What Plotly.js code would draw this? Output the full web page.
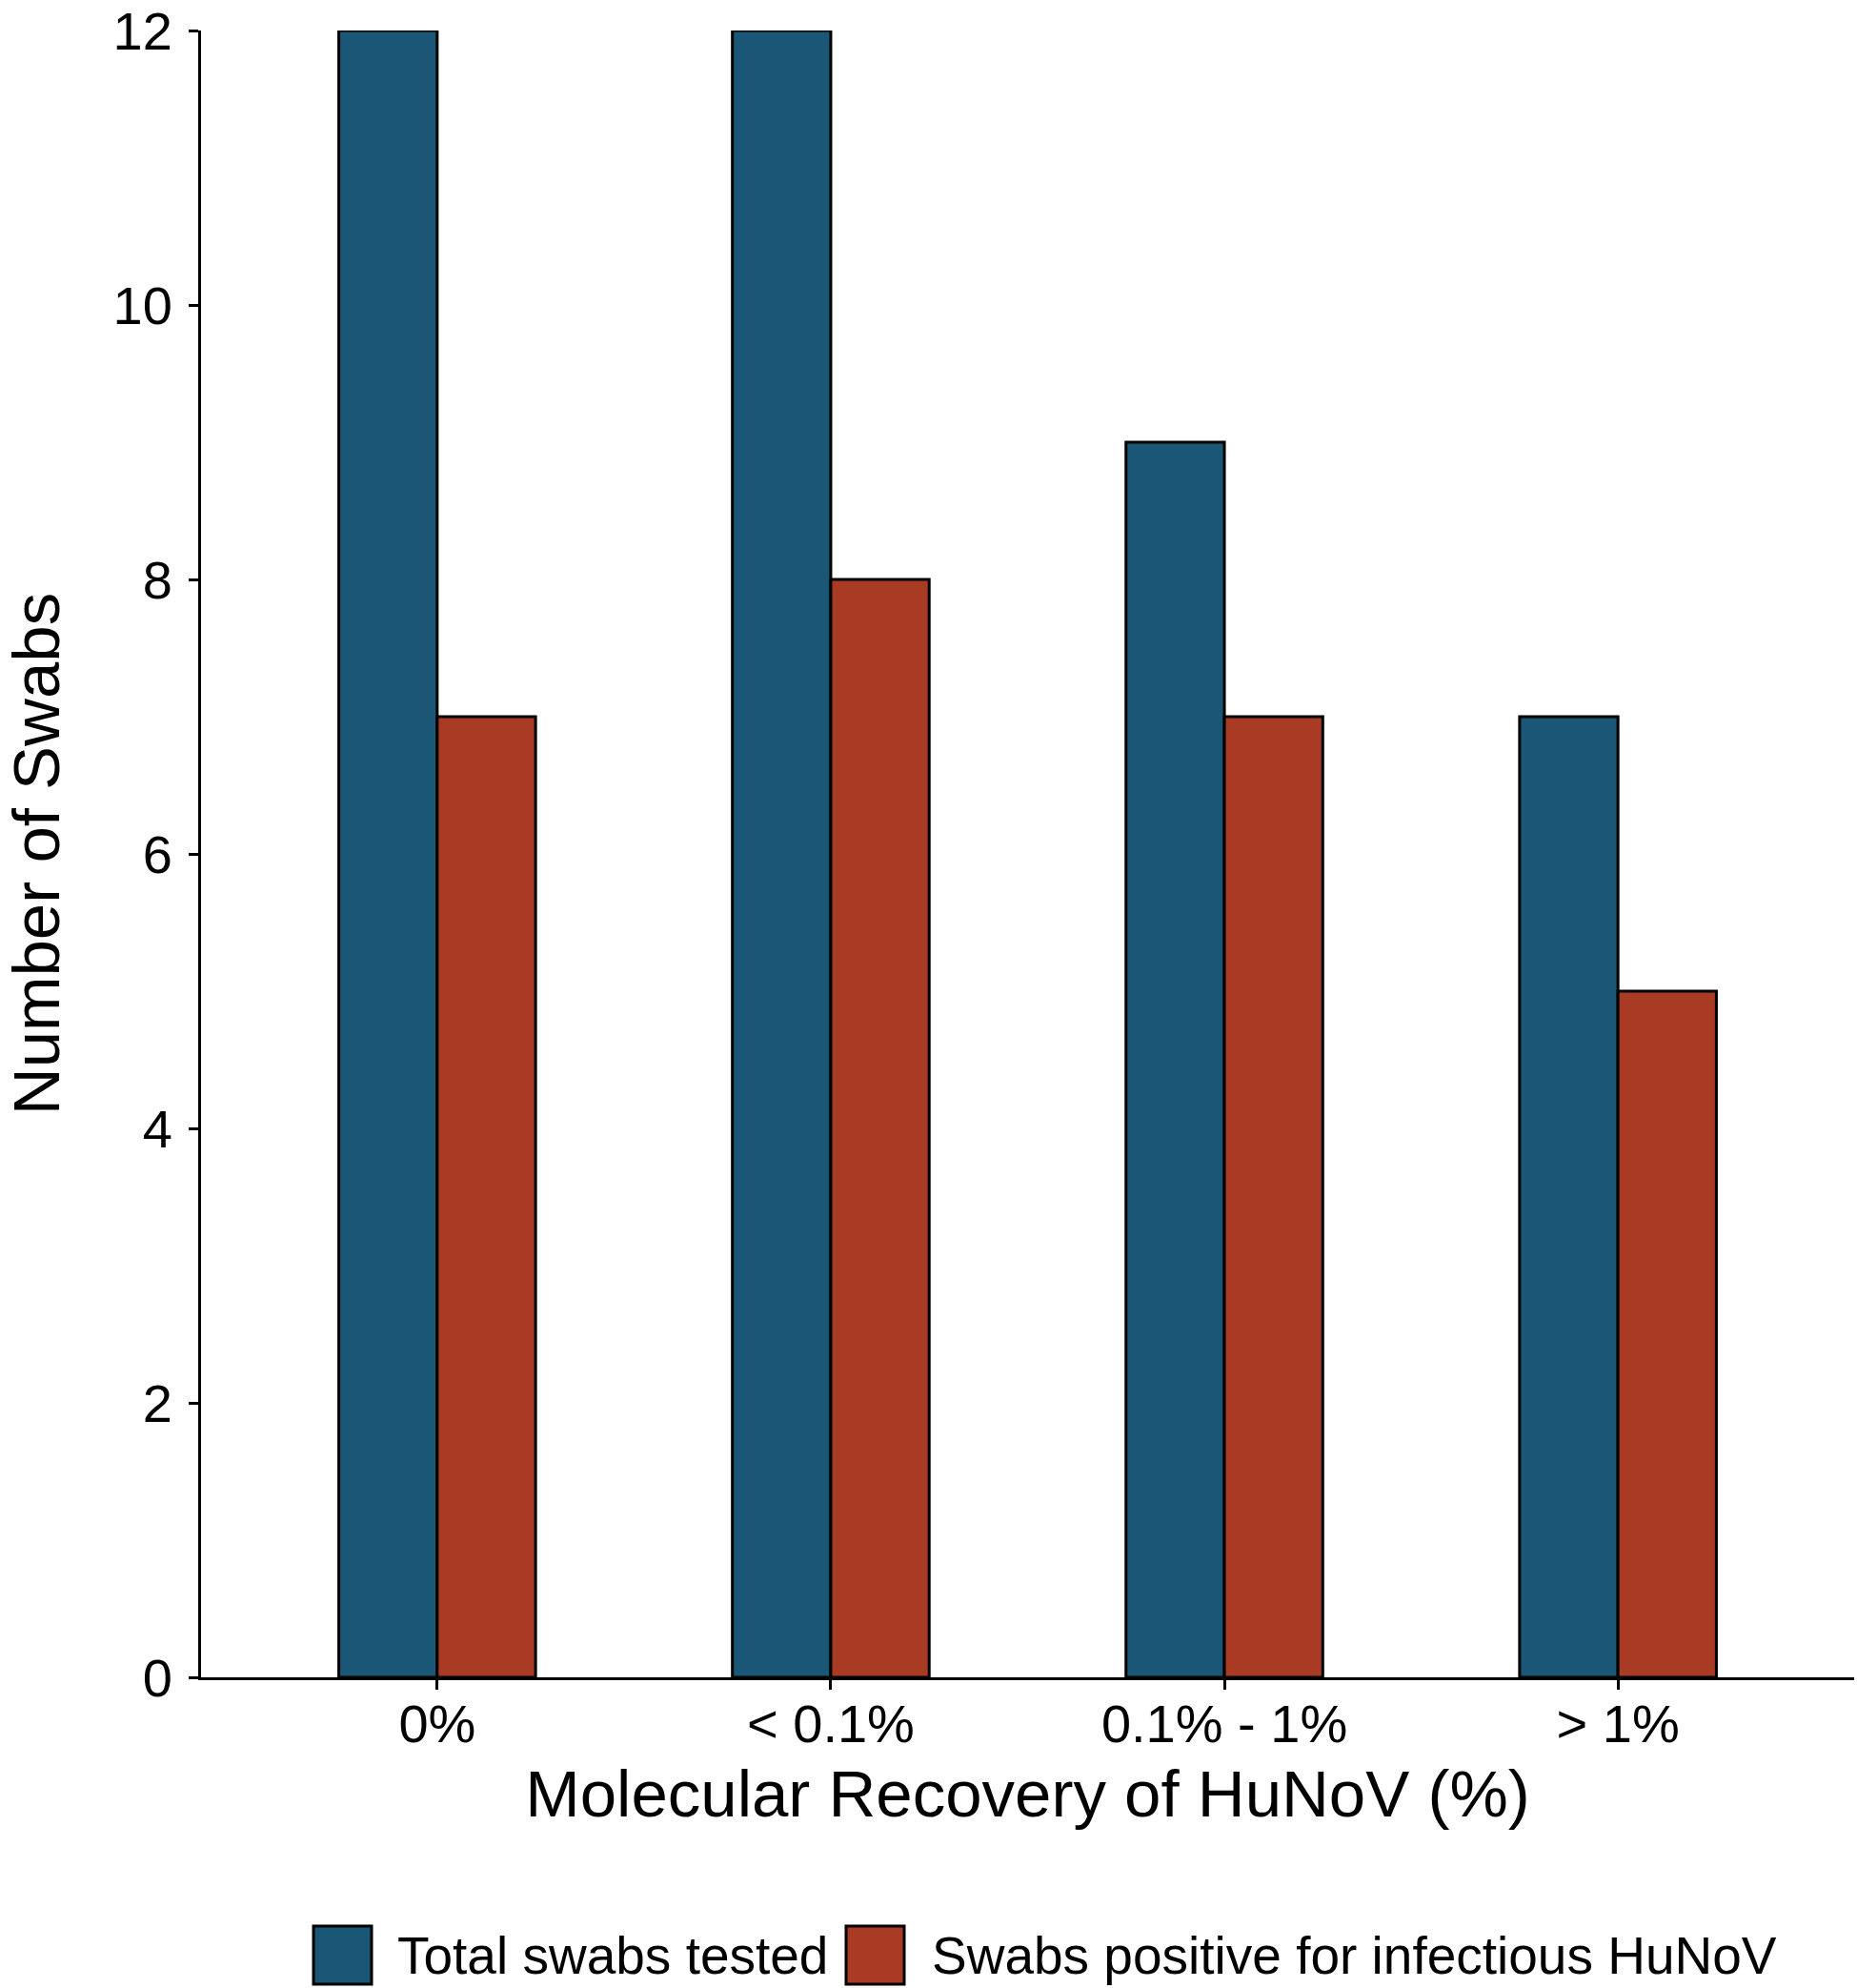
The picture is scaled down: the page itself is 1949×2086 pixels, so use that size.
<!DOCTYPE html>
<html>
<head>
<meta charset="utf-8">
<script src="https://cdn.plot.ly/plotly-3.0.1.min.js"></script>
<style>html,body{margin:0;padding:0;background:#fff;}</style>
</head>
<body>
<div id="chart"></div>
<script>
// ---- data ----
const categories = ["0%", "< 0.1%", "0.1% - 1%", "> 1%"];
const seriesNames = ["Total swabs tested", "Swabs positive for infectious HuNoV"];
const totalSwabs = [12, 12, 9, 7];
const positiveSwabs = [7, 8, 7, 5];
const seriesColors = ["#1A5676", "#A93A23"];
const yTicks = [0, 2, 4, 6, 8, 10, 12];

const W = 1949, H = 2086;
const M = {l: 211, r: 3, t: 32, b: 326};
const pw = W - M.l - M.r, ph = H - M.t - M.b;
const px = X => (X - M.l) / pw;          // pixel -> paper x
const py = Y => (H - M.b - Y) / ph;      // pixel -> paper y
const FONT = "Liberation Sans, Arial, sans-serif";

const traces = [totalSwabs, positiveSwabs].map((vals, i) => ({
  type: "bar",
  name: seriesNames[i],
  x: categories,
  y: vals,
  marker: {color: seriesColors[i], line: {color: "#000", width: 3}},
  showlegend: false,
  hoverinfo: "x+y+name"
}));

// custom legend (large keys as in the reference)
const legendKeyX = [329, 888];
const legendTextX = [415, 976];
const shapes = [], annotations = [];
seriesNames.forEach((n, i) => {
  shapes.push({type: "rect", xref: "paper", yref: "paper",
    x0: px(legendKeyX[i]), x1: px(legendKeyX[i] + 61),
    y0: py(2082), y1: py(2021),
    fillcolor: seriesColors[i], line: {color: "#000", width: 3}});
  annotations.push({xref: "paper", yref: "paper", x: px(legendTextX[i]), y: py(2052),
    xanchor: "left", yanchor: "middle", showarrow: false, text: n,
    font: {family: FONT, size: 55, color: "#000"}});
});

const layout = {
  width: W, height: H,
  margin: M,
  paper_bgcolor: "#fff", plot_bgcolor: "#fff",
  font: {family: FONT, color: "#000"},
  barmode: "group", bargap: 0.5, bargroupgap: 0,
  xaxis: {
    type: "category", range: [-0.6, 3.6],
    showline: true, linecolor: "#000", linewidth: 3,
    ticks: "outside", ticklen: 10, tickwidth: 3, tickcolor: "#000",
    ticklabelstandoff: -12,
    tickfont: {family: FONT, size: 56, color: "#000"},
    showgrid: false, zeroline: false, automargin: false,
    title: {text: "Molecular Recovery of HuNoV (%)", font: {family: FONT, size: 69, color: "#000"}, standoff: 19}
  },
  yaxis: {
    range: [0, 12], tickvals: yTicks, ticktext: yTicks.map(String),
    showline: true, linecolor: "#000", linewidth: 3,
    ticks: "outside", ticklen: 10, tickwidth: 3, tickcolor: "#000",
    ticklabelstandoff: 6, ticklabeloverflow: "allow",
    tickfont: {family: FONT, size: 56, color: "#000"},
    showgrid: false, zeroline: false, automargin: false,
    title: {text: "Number of Swabs", font: {family: FONT, size: 69, color: "#000"}, standoff: 45}
  },
  shapes: shapes,
  annotations: annotations
};

Plotly.newPlot("chart", traces, layout, {displayModeBar: false, staticPlot: true});
</script>
</body>
</html>
